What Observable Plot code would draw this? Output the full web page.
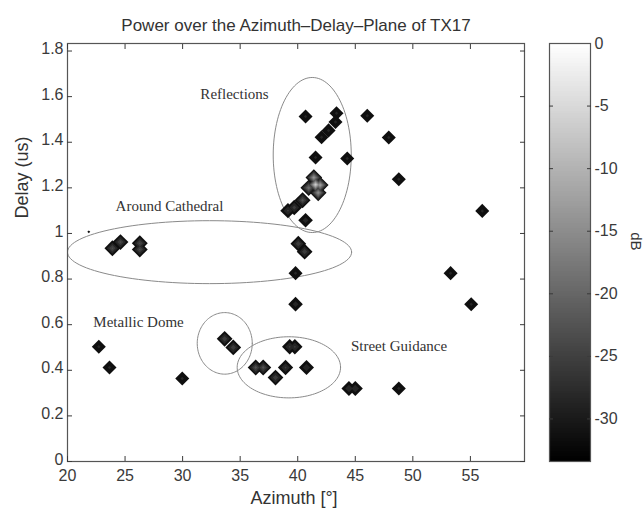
<!DOCTYPE html>
<html>
<head>
<meta charset="utf-8">
<script src="https://cdn.jsdelivr.net/npm/d3@7"></script>
<script src="https://cdn.jsdelivr.net/npm/@observablehq/plot@0.6"></script>
<style>
  html, body { margin: 0; padding: 0; background: white; }
  #wrap { position: relative; width: 644px; height: 514px; overflow: hidden; }
  #wrap > svg, #wrap > figure { position: absolute; top: 0; margin: 0; }
</style>
</head>
<body>
<div id="wrap"></div>
<script>
// ---- Data ----
const titleText = "Power over the Azimuth\u2013Delay\u2013Plane of TX17";
const xLabel = "Azimuth [\u00b0]";
const yLabel = "Delay (us)";
const cLabel = "dB";

const xTicks = [20, 25, 30, 35, 40, 45, 50, 55];
const yTicks = [0, 0.2, 0.4, 0.6, 0.8, 1, 1.2, 1.4, 1.6, 1.8];
const cTicks = [0, -5, -10, -15, -20, -25, -30];

// power peaks (azimuth deg, delay us, peak power dB)
const peakAz = [
  22.72, 23.65, 29.97, 40.68, 46.04, 47.91, 41.55, 44.30, 48.78, 56.03,
  39.81, 53.28, 39.81, 55.07, 40.76, 48.78, 38.94, 38.07,
  23.90, 24.60, 26.28, 26.28, 40.05, 40.60,
  33.65, 34.40,
  39.30, 39.75, 36.35, 37.00, 44.45, 45.00,
  43.37, 43.28, 42.68, 42.07,
  41.55, 41.40, 41.78, 40.95, 40.42, 39.70, 39.15, 40.68, 41.95,
  21.85
];
const peakDelay = [
  0.503, 0.412, 0.364, 1.513, 1.516, 1.421, 1.333, 1.329, 1.238, 1.099,
  0.826, 0.826, 0.690, 0.690, 0.412, 0.320, 0.412, 0.368,
  0.935, 0.962, 0.957, 0.930, 0.955, 0.920,
  0.538, 0.500,
  0.503, 0.503, 0.412, 0.412, 0.320, 0.320,
  1.527, 1.489, 1.452, 1.422,
  1.214, 1.245, 1.178, 1.200, 1.146, 1.114, 1.100, 1.058, 1.212,
  1.007
];
const peakDb = [
  -29, -29, -29, -29, -29, -29, -29, -29, -29, -29,
  -29, -29, -28, -29, -27, -29, -26, -24,
  -23, -23, -23, -23, -24, -24,
  -24, -24,
  -26, -26, -22, -22, -27, -27,
  -29, -29, -29, -29,
  -5, -13, -14, -18, -22, -25, -26, -28, -11,
  -32.8
];

// annotated regions (ellipses)
const regionNames = ["Reflections", "Around Cathedral", "Metallic Dome", "Street Guidance"];
const regionAz = [41.26, 32.34, 33.66, 39.23];
const regionDelay = [1.344, 0.918, 0.518, 0.413];
const regionAzRadius = [3.39, 12.34, 2.39, 4.49];
const regionDelayRadius = [0.34, 0.138, 0.135, 0.134];
const labelAz = [34.51, 28.86, 26.17, 48.80];
const labelDelay = [1.612, 1.121, 0.612, 0.507];

const contourLevels = [-33, -30, -27, -24, -21, -18, -15, -12, -9, -6, -3];
const cDomain = [-33.4, 0];

// ---- Build ----
const peaks = peakAz.map((az, i) => ({az, delay: peakDelay[i], db: peakDb[i]}));
const ellipsePts = regionNames.flatMap((name, i) =>
  d3.range(0, 361, 3).map(a => ({
    name,
    az: regionAz[i] + regionAzRadius[i] * Math.cos(a * Math.PI / 180),
    delay: regionDelay[i] + regionDelayRadius[i] * Math.sin(a * Math.PI / 180)
  }))
);
const labels = regionNames.map((name, i) => ({name, az: labelAz[i], delay: labelDelay[i]}));

const R0 = 7.9, FLOOR = -34;
const colorOpt = {type: "linear", domain: cDomain, range: ["#000000", "#ffffff"]};
const sans = "'Liberation Sans', Arial, Helvetica, sans-serif";
const fmtY = d => String(+d.toFixed(1));

const main = Plot.plot({
  width: 540, height: 514,
  marginLeft: 67, marginRight: 16, marginTop: 43, marginBottom: 53,
  x: {domain: [20, 59.7]},
  y: {domain: [0, 1.833]},
  color: colorOpt,
  r: {type: "identity"},
  style: {fontFamily: sans, fontSize: "16px", color: "#3a3a3a", background: "white"},
  marks: [
    Plot.line(ellipsePts, {x: "az", y: "delay", z: "name", stroke: "#8a8a8a", strokeWidth: 1, clip: true}),
    ...contourLevels.map(L => Plot.dot(peaks.filter(p => p.db > L), {
      x: "az", y: "delay", symbol: "diamond2",
      r: p => R0 * (p.db - L) / (p.db - FLOOR),
      fill: () => L + 1.5, stroke: "none", ariaLabel: "peak"
    })),
    Plot.text(labels, {x: "az", y: "delay", text: "name", fontFamily: "'Liberation Serif', 'Times New Roman', serif",
      fontSize: 15, fill: "#333", letterSpacing: "0.6px"}),
    Plot.frame({stroke: "#555", strokeWidth: 1.2}),
    Plot.axisX(xTicks, {anchor: "bottom", tickSize: 0, tickPadding: 8, label: null, tickFormat: d => String(d), letterSpacing: "0.8px"}),
    Plot.axisX(xTicks, {anchor: "bottom", tickSize: -5, text: null, label: null}),
    Plot.axisX(xTicks, {anchor: "top", tickSize: -5, text: null, label: null}),
    Plot.axisY(yTicks, {anchor: "left", tickSize: 0, tickPadding: 4, dy: -2, label: null, tickFormat: fmtY, letterSpacing: "0.8px"}),
    Plot.axisY(yTicks, {anchor: "left", tickSize: -5, text: null, label: null}),
    Plot.axisY(yTicks, {anchor: "right", tickSize: -5, text: null, label: null}),
    Plot.text([titleText], {frameAnchor: "top", dy: -25, fontSize: 17, fill: "#333", letterSpacing: "1.7px"}),
    Plot.text([xLabel], {frameAnchor: "bottom", dy: 42, dx: -2, fontSize: 18, fill: "#333", letterSpacing: "2.2px"}),
    Plot.text([yLabel], {frameAnchor: "left", dx: -45, dy: -34, rotate: -90, fontSize: 18, fill: "#333", letterSpacing: "1px"})
  ]
});

const bands = d3.range(cDomain[0], cDomain[1], 0.2);
const cbar = Plot.plot({
  width: 104, height: 514,
  marginLeft: 9, marginRight: 54, marginTop: 43, marginBottom: 53,
  x: {domain: [0, 1], axis: null},
  y: {domain: cDomain},
  color: colorOpt,
  style: {fontFamily: sans, fontSize: "16px", color: "#3a3a3a", background: "white"},
  marks: [
    Plot.rect(bands, {x1: 0, x2: 1, y1: d => d, y2: d => Math.min(d + 0.25, 0), fill: d => d + 0.1, shapeRendering: "crispEdges"}),
    Plot.frame({stroke: "#555", strokeWidth: 1.2}),
    Plot.axisY(cTicks, {anchor: "right", tickSize: 0, tickPadding: 4, label: null, tickFormat: d => String(d), letterSpacing: "0.6px"}),
    Plot.axisY(cTicks.filter(d => d !== 0), {anchor: "right", tickSize: -4, text: null, label: null}),
    Plot.axisY(cTicks.filter(d => d !== 0), {anchor: "left", tickSize: -4, text: null, label: null}),
    Plot.text([cLabel], {frameAnchor: "right", dx: 45, dy: -2, rotate: 90, fontSize: 15, fill: "#333"})
  ]
});

// soften peak edges a little, like the smoothed contour rendering
main.querySelectorAll('g[aria-label="peak"]').forEach(g => g.setAttribute("style", "filter: blur(0.8px)"));

const wrap = document.getElementById("wrap");
main.style.left = "0px";
cbar.style.left = "540px";
wrap.appendChild(main);
wrap.appendChild(cbar);
</script>
</body>
</html>
